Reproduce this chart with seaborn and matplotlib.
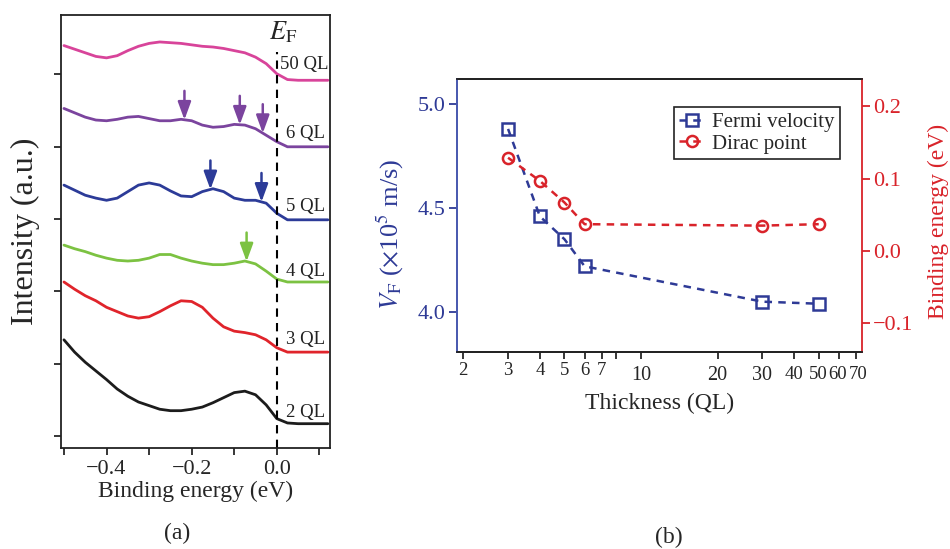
import numpy as np
import pandas as pd
import matplotlib
matplotlib.use('Agg')
import matplotlib.pyplot as plt
import matplotlib.transforms as mtransforms
import seaborn as sns

# ---------------- data: panel (a) ----------------
energy = [-0.500, -0.475, -0.450, -0.425, -0.400, -0.375, -0.350, -0.325, -0.300,
          -0.275, -0.250, -0.225, -0.200, -0.175, -0.150, -0.125, -0.100, -0.075,
          -0.050, -0.025, 0.000, 0.025, 0.050, 0.075, 0.100, 0.120]
ql2 = [1.33, 1.16, 1.02, 0.90, 0.78, 0.65, 0.55, 0.47, 0.42, 0.37, 0.35, 0.35, 0.37,
       0.40, 0.46, 0.53, 0.60, 0.62, 0.57, 0.43, 0.24, 0.18, 0.17, 0.17, 0.17, 0.17]
ql3 = [2.13, 2.03, 1.94, 1.87, 1.78, 1.72, 1.66, 1.63, 1.65, 1.72, 1.80, 1.87, 1.86,
       1.78, 1.63, 1.51, 1.45, 1.43, 1.40, 1.33, 1.22, 1.16, 1.16, 1.16, 1.16, 1.16]
ql4 = [2.64, 2.59, 2.55, 2.50, 2.46, 2.43, 2.42, 2.43, 2.46, 2.51, 2.51, 2.46, 2.42,
       2.39, 2.37, 2.37, 2.39, 2.42, 2.38, 2.28, 2.17, 2.13, 2.13, 2.13, 2.13, 2.13]
ql5 = [3.47, 3.40, 3.33, 3.29, 3.26, 3.29, 3.38, 3.47, 3.50, 3.47, 3.39, 3.32, 3.31,
       3.38, 3.42, 3.38, 3.29, 3.26, 3.26, 3.22, 3.08, 2.99, 2.99, 2.99, 2.99, 2.99]
ql6 = [4.53, 4.47, 4.41, 4.37, 4.36, 4.38, 4.41, 4.42, 4.39, 4.36, 4.36, 4.38, 4.36,
       4.30, 4.27, 4.28, 4.31, 4.30, 4.25, 4.16, 4.07, 4.00, 4.00, 4.00, 4.00, 4.00]
ql50 = [5.40, 5.35, 5.30, 5.25, 5.23, 5.26, 5.33, 5.39, 5.43, 5.45, 5.44, 5.43, 5.41,
        5.39, 5.38, 5.36, 5.33, 5.30, 5.24, 5.15, 5.01, 4.93, 4.92, 4.92, 4.92, 4.92]
sample_names = ['2 QL', '3 QL', '4 QL', '5 QL', '6 QL', '50 QL']
sample_colors = ['#1c1c1c', '#e0242b', '#7cc242', '#2c3b98', '#7b449e', '#d8449a']
label_y = [0.32, 1.33, 2.28, 3.17, 4.19, 5.145]

arrow_sample = ['6 QL', '6 QL', '6 QL', '5 QL', '5 QL', '4 QL']
arrow_energy = [-0.217, -0.087, -0.033, -0.156, -0.036, -0.071]

# ---------------- data: panel (b) ----------------
thickness = [3, 4, 5, 6, 30, 50]
fermi_velocity = [4.88, 4.46, 4.35, 4.22, 4.05, 4.04]
dirac_point = [0.129, 0.097, 0.067, 0.037, 0.035, 0.037]
xb_major = [10, 20, 30, 40, 50, 60, 70]
xb_minor = [2, 3, 4, 5, 6, 7, 8]
xb_minor_labels = ['2', '3', '4', '5', '6', '7', '']

# ---------------- style ----------------
sns.set_style('ticks')
plt.rcParams['font.family'] = ['Liberation Serif', 'DejaVu Serif']
plt.rcParams['mathtext.fontset'] = 'stix'
plt.rcParams['axes.linewidth'] = 1.3

fig = plt.figure(figsize=(9.5, 5.49), dpi=100)
axA = fig.add_axes([0.0642, 0.1840, 0.2832, 0.7887])
axB = fig.add_axes([0.4811, 0.3588, 0.4263, 0.4973])

# ---------------- panel (a) ----------------
series = [ql2, ql3, ql4, ql5, ql6, ql50]
df = pd.concat([pd.DataFrame({'energy': energy, 'intensity': s, 'sample': n})
                for s, n in zip(series, sample_names)], ignore_index=True)
palette = dict(zip(sample_names, sample_colors))
sns.lineplot(data=df, x='energy', y='intensity', hue='sample', palette=palette,
             sort=False, estimator=None, legend=False, lw=2.0, ax=axA)

axA.set_xlim(-0.507, 0.125)
axA.set_ylim(-0.166, 5.823)
axA.axvline(0.0, ymin=0, ymax=0.915, color='black', lw=1.5, ls=(0, (4, 3)))

for n, c, ly in zip(sample_names, sample_colors, label_y):
    axA.text(0.021 if n != '50 QL' else 0.007, ly, n, fontsize=13.5, ha='left',
             va='center', color='#222222')

data_map = dict(zip(sample_names, series))
color_map = dict(zip(sample_names, sample_colors))
for s, e in zip(arrow_sample, arrow_energy):
    tip = float(np.interp(e, energy, data_map[s]))
    axA.annotate('', xy=(e, tip), xytext=(e, tip + 0.40),
                 arrowprops=dict(arrowstyle='-|>,head_length=0.6,head_width=0.22',
                                 color=color_map[s], lw=1.8, mutation_scale=18,
                                 shrinkA=0, shrinkB=0))

axA.text(0.014, 5.59, r'$E_{\mathrm{F}}$', fontsize=19, ha='center', va='center')

axA.set_xticks([-0.4, -0.2, 0.0])
axA.set_xticklabels(['\u22120.4', '\u22120.2', '0.0'])
axA.set_xticks([-0.5, -0.3, -0.1, 0.1], minor=True)
axA.set_yticks([0, 1, 2, 3, 4, 5])
axA.set_yticklabels([])
axA.tick_params(axis='both', which='both', direction='out', length=5, width=1.3,
                labelsize=16, pad=4)
axA.set_xlabel('Binding energy (eV)', fontsize=17, labelpad=1)
axA.set_ylabel('Intensity (a.u.)', fontsize=23, labelpad=6)
for sp in axA.spines.values():
    sp.set_color('#222222')

fig.text(177 / 950, 1 - 533 / 549, '(a)', fontsize=17, ha='center', va='center')

# ---------------- panel (b) ----------------
blue = '#2e3a96'
red = '#d9232a'
axB2 = axB.twinx()
sns.lineplot(x=thickness, y=fermi_velocity, ax=axB, color=blue, lw=1.8,
             linestyle=(0, (3, 2.5)), marker='s', markersize=8,
             markerfacecolor='none', markeredgecolor=blue, markeredgewidth=1.8,
             label='Fermi velocity', legend=False)
sns.lineplot(x=thickness, y=dirac_point, ax=axB2, color=red, lw=1.8,
             linestyle=(0, (3, 2.5)), marker='o', markersize=8,
             markerfacecolor='none', markeredgecolor=red, markeredgewidth=1.8,
             label='Dirac point', legend=False)

axB.set_xscale('log')
axB.set_xlim(1.89, 74)
axB.set_ylim(3.808, 5.12)
axB2.set_ylim(-0.14, 0.238)

axB.set_xticks(xb_major)
axB.set_xticklabels([str(v) for v in xb_major])
axB.set_xticks(xb_minor, minor=True)
axB.set_xticklabels(xb_minor_labels, minor=True)
axB.tick_params(axis='x', which='major', direction='out', length=5, width=1.3,
                labelsize=14.5, pad=5)
axB.tick_params(axis='x', which='minor', direction='out', length=5, width=1.3,
                labelsize=13.5, pad=2)
axB.set_yticks([4.0, 4.5, 5.0])
axB.set_yticklabels(['4.0', '4.5', '5.0'])
axB.tick_params(axis='y', which='both', direction='out', length=6, width=1.3,
                labelsize=16, pad=2, colors=blue)
axB2.set_yticks([-0.1, 0.0, 0.1, 0.2])
axB2.set_yticklabels(['\u22120.1', '0.0', '0.1', '0.2'])
axB2.tick_params(axis='y', which='both', direction='out', length=6, width=1.3,
                 labelsize=16, pad=2, colors=red)

# the crowded 40-70 labels: a touch smaller and nudged apart
major_ticks = axB.xaxis.get_major_ticks()
label_shift_px = {40: 0, 50: 0, 60: -1.5, 70: 2.5}
for t, v in zip(major_ticks, xb_major):
    if v in label_shift_px:
        t.label1.set_fontsize(13.5)
        off = mtransforms.ScaledTranslation(label_shift_px[v] / 100, 0, fig.dpi_scale_trans)
        t.label1.set_transform(t.label1.get_transform() + off)

axB.spines['left'].set_color('#4a5ab0')
axB.spines['right'].set_visible(False)
axB2.spines['left'].set_color('#4a5ab0')
axB2.spines['right'].set_color(red)
for ax in (axB, axB2):
    ax.spines['top'].set_color('#222222')
    ax.spines['bottom'].set_color('#222222')

axB.set_xlabel('Thickness (QL)', fontsize=17, labelpad=6)
axB.set_ylabel(r'$V_{\mathrm{F}}$ ($\times$10$^5$ m/s)', fontsize=19, color=blue)
axB.yaxis.set_label_coords(-0.125, 0.43)
axB2.set_ylabel('Binding energy (eV)', fontsize=17, color=red, rotation=90)
axB2.yaxis.set_label_coords(1.163, 0.48)

h1, l1 = axB.get_legend_handles_labels()
h2, l2 = axB2.get_legend_handles_labels()
leg = axB2.legend(h1 + h2, l1 + l2, loc='upper right', bbox_to_anchor=(0.946, 0.897),
                  borderaxespad=0, fontsize=15, frameon=True, fancybox=False,
                  framealpha=1, edgecolor='#222222', handlelength=1.2,
                  handletextpad=0.4, borderpad=0.25, labelspacing=0.1)
leg.get_frame().set_linewidth(1.2)

fig.text(669 / 950, 1 - 537 / 549, '(b)', fontsize=17, ha='center', va='center')

fig.savefig('out.png', dpi=100)
